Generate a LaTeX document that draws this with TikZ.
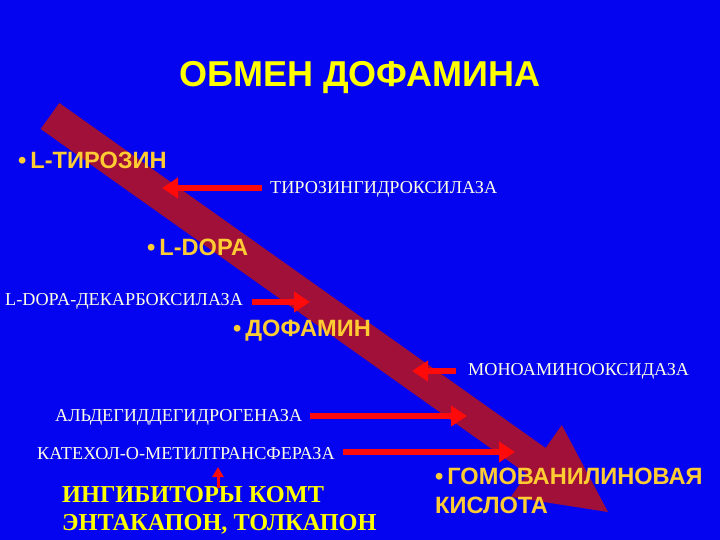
\documentclass[tikz,border=0pt]{standalone}
\usepackage{fontspec}
\setmainfont{Liberation Serif}
\newfontfamily\arialf{Liberation Sans}
\usetikzlibrary{arrows.meta}
\definecolor{bgblue}{RGB}{4,4,240}
\definecolor{shaftred}{RGB}{160,16,56}
\definecolor{arrred}{RGB}{255,10,10}
\definecolor{titleyel}{RGB}{255,255,0}
\definecolor{labyel}{RGB}{255,204,51}
\definecolor{enzwhite}{RGB}{255,255,230}
\tikzset{
  enz/.style={anchor=west, inner sep=0pt, text=enzwhite, font=\fontsize{18.2}{20}\selectfont},
  lab/.style={anchor=west, inner sep=0pt, text=labyel, font=\arialf\bfseries\fontsize{23.6}{29}\selectfont},
  inh/.style={anchor=west, inner sep=0pt, text=titleyel, font=\bfseries\fontsize{24.3}{28}\selectfont, align=left},
  redarr/.style={draw=arrred, line width=6pt, -{Triangle[length=16pt,width=20pt]}},
}
\begin{document}
\begin{tikzpicture}[x=1pt,y=-1pt]
\useasboundingbox (0,0) rectangle (720,540);
\fill[bgblue] (0,0) rectangle (720,540);
% big diagonal arrow
\fill[shaftred] (40.7,129) -- (59.3,103) -- (545.6,448) -- (561.8,425.1) -- (608,512) -- (510.8,496.9) -- (527,474) -- cycle;
% title
\node[inner sep=0pt, text=titleyel, font=\arialf\bfseries\fontsize{36}{42}\selectfont] (title) at (360,78) {ОБМЕН ДОФАМИНА};
% substances
\node[lab] (tyr) at (18,160) {•\,L-ТИРОЗИН};
\node[lab] (dopa) at (147,247) {•\,L-DOPA};
\node[lab] (dopamine) at (233,331) {•\,ДОФАМИН};
\node[lab, align=left] (hva) at (435,491) {•\,ГОМОВАНИЛИНОВАЯ\\КИСЛОТА};
% enzymes
\node[enz] (th) at (270,189) {ТИРОЗИНГИДРОКСИЛАЗА};
\node[enz] (ddc) at (5,301) {L-DOPA-ДЕКАРБОКСИЛАЗА};
\node[enz] (mao) at (468,371) {МОНОАМИНООКСИДАЗА};
\node[enz] (aldh) at (55,417) {АЛЬДЕГИДДЕГИДРОГЕНАЗА};
\node[enz] (comt) at (37,454) {КАТЕХОЛ-О-МЕТИЛТРАНСФЕРАЗА};
\node[inh] (inhib) at (62,510) {ИНГИБИТОРЫ КОМТ\\ЭНТАКАПОН, ТОЛКАПОН};
% arrow end points on the big arrow
\coordinate (thT) at (162,188);
\coordinate (ddcT) at (310,302);
\coordinate (maoT) at (412,371);
\coordinate (aldhT) at (467,416);
\coordinate (comtT) at (515,452);
\coordinate (inhS) at (218,488);
\coordinate (inhT) at (218,467);
\draw[redarr] ([xshift=-8pt]th.west |- thT) -- (thT);
\draw[redarr] ([xshift=9pt]ddc.east |- ddcT) -- (ddcT);
\draw[redarr] ([xshift=-12pt]mao.west |- maoT) -- (maoT);
\draw[redarr] ([xshift=8pt]aldh.east |- aldhT) -- (aldhT);
\draw[redarr] ([xshift=8pt]comt.east |- comtT) -- (comtT);
\draw[draw=arrred, line width=3pt, -{Triangle[length=10pt,width=11pt]}] (inhS) -- (inhT);
\end{tikzpicture}
\end{document}
